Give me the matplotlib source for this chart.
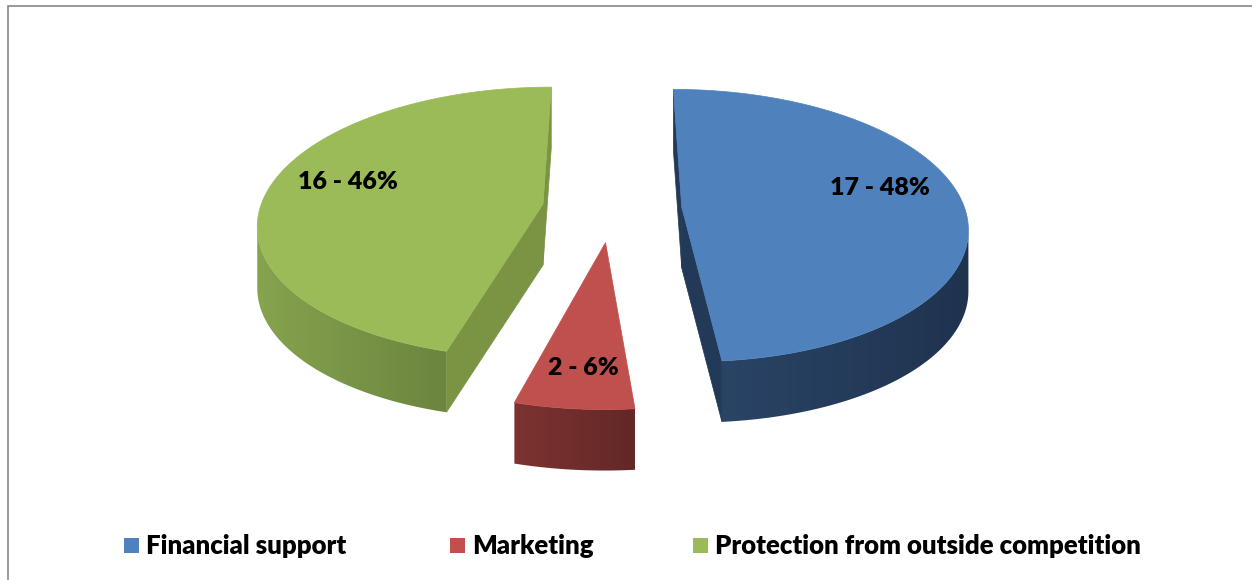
"""Exploded 3D pie: support needed by enterprises."""

import numpy as np
import matplotlib.pyplot as plt
from matplotlib.patches import Polygon, Rectangle
from matplotlib.colors import to_rgb

categories = ["Financial support", "Marketing", "Protection from outside competition"]
counts = [17, 2, 16]
slice_labels = ["17 - 48%", "2 - 6%", "16 - 46%"]
top_colors = ["#4F81BD", "#C0504D", "#9BBB59"]
wall_light = ["#2A4466", "#7C3331", "#86A34E"]
wall_dark = ["#1F334F", "#622826", "#6C853F"]
cut_colors = ["#223957", "#6E2D2B", "#7A9443"]

# pixel-space layout of the pie (fitted to the reference)
CX, CY = 612, 208.5
RX, RY = 283, 134
PERSP = 0.136
DEPTH = 61
EXPLODE = 0.247
label_pos = [(880, 188), (583, 368), (348, 182)]


def project(X, Y, z):
    d = 1 + PERSP * Y
    return CX + RX * X / d, CY - RY * Y / d + z * DEPTH


def area(pts):
    x = pts[:, 0]
    y = -pts[:, 1]
    return 0.5 * np.sum(x * np.roll(y, -1) - np.roll(x, -1) * y)


fig = plt.figure(figsize=(12.52, 5.8), dpi=100)
ax = fig.add_axes([0, 0, 1, 1])

fracs = np.array(counts) / np.sum(counts)
bounds = 90 - 360 * np.concatenate([[0], np.cumsum(fracs)])

for i in range(len(counts)):
    t1, t2 = bounds[i], bounds[i + 1]  # t1 > t2, slice goes clockwise
    mid = np.radians((t1 + t2) / 2)
    ox, oy = EXPLODE * np.cos(mid), EXPLODE * np.sin(mid)
    th = np.radians(np.linspace(t2, t1, 300))
    rim_x, rim_y = ox + np.cos(th), oy + np.sin(th)
    top_rim = np.array([project(x, y, 0) for x, y in zip(rim_x, rim_y)])
    bot_rim = np.array([project(x, y, 1) for x, y in zip(rim_x, rim_y)])

    # outer wall: keep the part facing the viewer, shade it with a gradient
    vis = []
    for j in range(len(th) - 1):
        q = np.array([top_rim[j], bot_rim[j], bot_rim[j + 1], top_rim[j + 1]])
        if area(q) > 0:
            vis.append(j)
    if vis:
        j0, j1 = vis[0], vis[-1] + 1
        wall = np.vstack([top_rim[j0:j1 + 1], bot_rim[j0:j1 + 1][::-1]])
        patch = Polygon(wall, closed=True, fc="none", ec="none")
        ax.add_patch(patch)
        c0, c1 = np.array(to_rgb(wall_light[i])), np.array(to_rgb(wall_dark[i]))
        t = np.linspace(0, 1, 256)[None, :, None]
        grad = c0 + (c1 - c0) * t
        xmin, xmax = wall[:, 0].min(), wall[:, 0].max()
        ymin, ymax = wall[:, 1].min(), wall[:, 1].max()
        im = ax.imshow(grad, extent=[xmin, xmax, ymax, ymin], aspect="auto",
                       interpolation="bilinear", zorder=1)
        im.set_clip_path(patch)

    # radial cut faces
    for ang, sign in ((t1, 1), (t2, -1)):
        r = np.radians(ang)
        q = np.array([project(ox, oy, 0),
                      project(ox + np.cos(r), oy + np.sin(r), 0),
                      project(ox + np.cos(r), oy + np.sin(r), 1),
                      project(ox, oy, 1)])
        if sign * area(q) > 0:
            ax.add_patch(Polygon(q, closed=True, fc=cut_colors[i],
                                 ec=cut_colors[i], lw=0.5, zorder=2))

    # top face
    top = np.vstack([[project(ox, oy, 0)], top_rim])
    ax.add_patch(Polygon(top, closed=True, fc=top_colors[i],
                         ec=top_colors[i], lw=0.5, zorder=3))

    lx, ly = label_pos[i]
    ax.text(lx, ly, slice_labels[i], ha="center", va="center", zorder=5,
            fontsize=18, fontweight="heavy", family="Lato", color="black")

# legend
legend_x = [124, 450, 693]
for x, name, col in zip(legend_x, categories, top_colors):
    ax.add_patch(Rectangle((x, 538), 15, 15, fc=col, ec="none"))
    ax.text(x + 22, 545.5, name, ha="left", va="center", fontsize=18.5,
            fontweight="heavy", family="Lato", color="black")

# chart frame (only top and left edges fall inside the image)
ax.plot([7.5, 7.5, 1252], [580, 6, 6], color="#868686", lw=1.2,
        solid_joinstyle="miter")

ax.set_xlim(0, 1252)
ax.set_ylim(580, 0)
ax.axis("off")

fig.savefig("out.png", dpi=100)
